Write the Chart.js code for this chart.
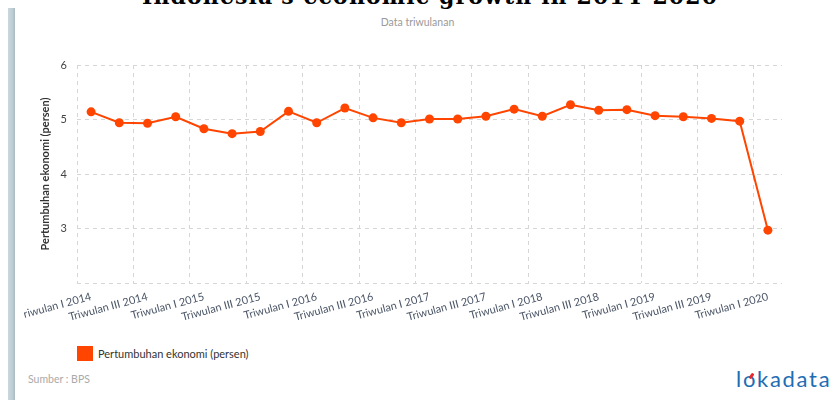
<!DOCTYPE html>
<html>
<head>
<meta charset="utf-8">
<script src="https://cdn.jsdelivr.net/npm/chart.js@4.4.1/dist/chart.umd.min.js"></script>
<style>
    html, body { margin: 0; padding: 0; background: #fff; }
    body { width: 835px; height: 400px; position: relative; overflow: hidden; font-family: 'Lato', sans-serif; }
    .side-bar { position: absolute; left: 8px; top: 8px; width: 7px; height: 392px;
                background: linear-gradient(to right, #c9d8de, #bccbd2 70%, #a9b8bf); }
    .title { position: absolute; left: 142px; top: -15px; white-space: nowrap;
             font-family: 'DejaVu Serif', serif; font-weight: bold; font-size: 22px;
             line-height: 22px; color: #000; }
    .subtitle { position: absolute; left: 0; top: 16px; width: 835px; text-align: center;
                font-size: 10.5px; color: #9a9a9a; }
    .clip { position: absolute; left: 24px; top: 0; width: 811px; height: 345px; overflow: hidden; }
    .chart-box { position: absolute; left: -24px; top: 0; width: 835px; height: 345px; }
    .legend { position: absolute; left: 77px; top: 346px; height: 15px; display: flex; align-items: center;
              font-size: 11px; color: #333; }
    .legend .swatch { width: 16px; height: 15px; background: #ff4500; margin-right: 5px; }
    .source { position: absolute; left: 28px; top: 373px; font-size: 10.5px; color: #aaa; }
    .logo { position: absolute; left: 736px; top: 365px; font-size: 22px; color: #1e6db3;
            letter-spacing: 1.7px; font-family: 'Lato', sans-serif; }
    .logo .o { position: relative; }
    .logo .o::after { content: ""; position: absolute; left: 7px; top: 8px; width: 3px; height: 6px;
                      background: #e8262b; transform: rotate(35deg); border-radius: 1px; }
</style>
</head>
<body>
<div class="side-bar"></div>
<div class="title" id="title">Indonesia's economic growth in 2014-2020</div>
<div class="subtitle">Data triwulanan</div>
<div class="clip"><div class="chart-box"><canvas id="growthChart"></canvas></div></div>
<div class="legend"><span class="swatch"></span><span>Pertumbuhan ekonomi (persen)</span></div>
<div class="source">Sumber : BPS</div>
<div class="logo">l<span class="o">o</span>kadata</div>

<script>
    // Kuartal 2014 - 2020
    const quarters = [
        "Triwulan I 2014", "Triwulan II 2014", "Triwulan III 2014", "Triwulan IV 2014",
        "Triwulan I 2015", "Triwulan II 2015", "Triwulan III 2015", "Triwulan IV 2015",
        "Triwulan I 2016", "Triwulan II 2016", "Triwulan III 2016", "Triwulan IV 2016",
        "Triwulan I 2017", "Triwulan II 2017", "Triwulan III 2017", "Triwulan IV 2017",
        "Triwulan I 2018", "Triwulan II 2018", "Triwulan III 2018", "Triwulan IV 2018",
        "Triwulan I 2019", "Triwulan II 2019", "Triwulan III 2019", "Triwulan IV 2019",
        "Triwulan I 2020"
    ];
    const growth = [
        5.14, 4.94, 4.93, 5.05,
        4.83, 4.74, 4.78, 5.15,
        4.94, 5.21, 5.03, 4.94,
        5.01, 5.01, 5.06, 5.19,
        5.06, 5.27, 5.17, 5.18,
        5.07, 5.05, 5.02, 4.97,
        2.97
    ];
    const yTicks = [2, 3, 4, 5, 6];

    const ORANGE = "#ff4500";
    const GRID = "#d6d6d6";

    // judul: lebarkan huruf agar sama dengan lebar judul asli (~575px)
    const titleEl = document.getElementById("title");
    const tw = titleEl.getBoundingClientRect().width;
    if (tw > 0) {
        titleEl.style.letterSpacing = ((575 - tw) / (titleEl.textContent.length - 1)) + "px";
    }

    Chart.defaults.font.family = "'Lato', sans-serif";

    new Chart(document.getElementById("growthChart").getContext("2d"), {
        type: "line",
        data: {
            labels: quarters,
            datasets: [{
                label: "Pertumbuhan ekonomi (persen)",
                data: growth,
                borderColor: ORANGE,
                backgroundColor: ORANGE,
                borderWidth: 2,
                tension: 0,
                pointRadius: 4.5,
                pointBorderWidth: 0,
                pointBackgroundColor: ORANGE
            }]
        },
        options: {
            responsive: true,
            maintainAspectRatio: false,
            animation: false,
            layout: { padding: { top: 65, right: 53, left: 0, bottom: 0 } },
            plugins: { legend: { display: false }, tooltip: { enabled: false } },
            scales: {
                x: {
                    type: "category",
                    offset: true,
                    grid: {
                        offset: true,
                        drawTicks: false,
                        color: function (ctx) {
                            // garis setiap dua kuartal, tanpa garis penutup kanan
                            return (typeof ctx.index === "number" && ctx.index % 2 === 0) ? GRID : "rgba(0,0,0,0)";
                        }
                    },
                    border: { display: false, dash: [4, 4] },
                    ticks: {
                        autoSkip: false,
                        maxRotation: 15,
                        minRotation: 15,
                        padding: 7,
                        color: "#4a5566",
                        font: { size: 11 },
                        callback: function (v, i) { return i % 2 === 0 ? quarters[i] : ""; }
                    },
                    afterFit: function (scale) { scale.height = 62; }
                },
                y: {
                    min: yTicks[0],
                    max: yTicks[yTicks.length - 1],
                    afterBuildTicks: function (scale) {
                        scale.ticks = yTicks.map(function (v) { return { value: v }; });
                    },
                    grid: { color: GRID, drawTicks: false },
                    border: { display: false, dash: [4, 4] },
                    ticks: {
                        padding: 10,
                        color: "#444",
                        font: { size: 11 },
                        callback: function (v) { return v === yTicks[0] ? "" : v; }
                    },
                    title: {
                        display: true,
                        text: "Pertumbuhan ekonomi (persen)",
                        color: "#333",
                        font: { size: 11, weight: "bold" },
                        padding: { top: 39, bottom: 0 }
                    },
                    afterFit: function (scale) { scale.width = 77; }
                }
            }
        }
    });
</script>
</body>
</html>
